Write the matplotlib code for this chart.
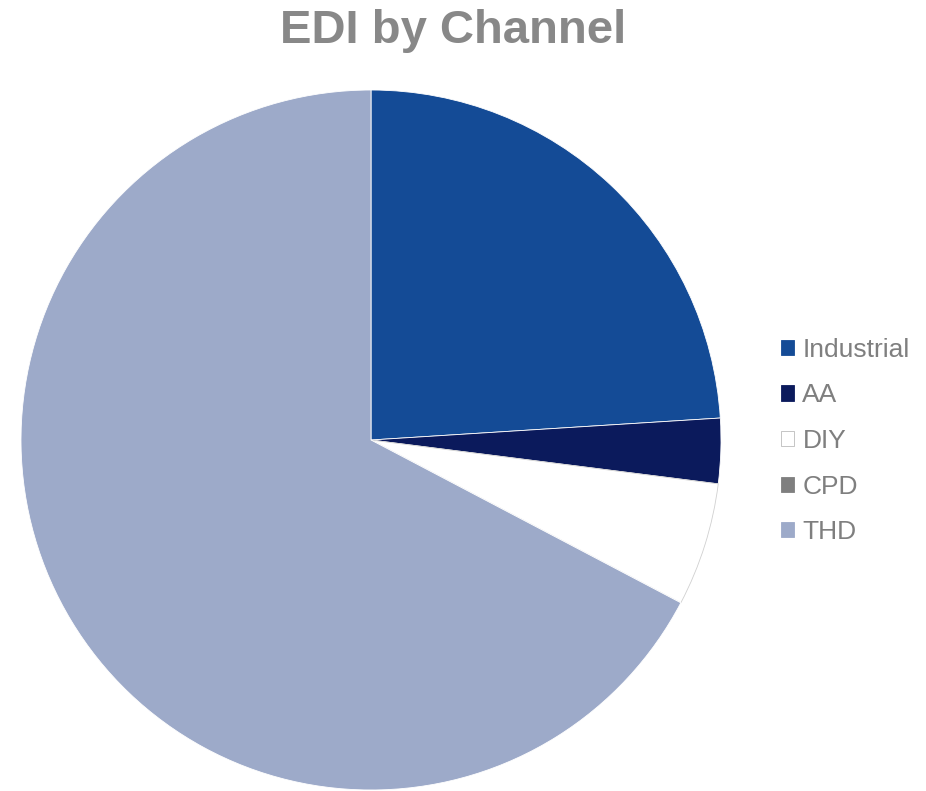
import matplotlib.pyplot as plt
from matplotlib.patches import Patch

plt.rcParams['font.family'] = ['Liberation Sans', 'DejaVu Sans']

# channel shares, clockwise from 12 o'clock
channels = ["Industrial", "AA", "DIY", "CPD", "THD"]
shares = [24.0, 3.0, 5.7, 0.0, 67.3]
colors = ["#144B96", "#0B1A5C", "#FFFFFF", "#7F7F7F", "#9DAAC9"]

fig = plt.figure(figsize=(9.26, 7.91), dpi=100)
W, H = 926, 791

# pie box: 700px square, left edge at x=21, top at y=90
ax = fig.add_axes([21 / W, (H - 790) / H, 700 / W, 700 / H])
wedges, _ = ax.pie(shares, colors=colors, startangle=90, counterclock=False,
                   radius=1.0, wedgeprops=dict(linewidth=0.6, edgecolor="white"))
wedges[2].set_edgecolor("#d0d0d0")
ax.set_xlim(-1.0, 1.0)
ax.set_ylim(-1.0, 1.0)
ax.axis("off")

fig.text(453 / W, 1 - 43 / H, "EDI by Channel", ha="center", va="baseline",
         fontsize=34, fontweight="bold", color="#888888")

handles = [Patch(facecolor=c, edgecolor="#bbbbbb" if c == "#FFFFFF" else c, linewidth=0.6)
           for c in colors]
leg = fig.legend(handles, channels, loc="center left",
                 bbox_to_anchor=(757 / W, 1 - 441 / H), frameon=False,
                 fontsize=19, labelcolor="#7F7F7F", handlelength=0.52,
                 handleheight=0.5, handletextpad=0.3, labelspacing=0.82)

fig.savefig("out.png", dpi=100)
